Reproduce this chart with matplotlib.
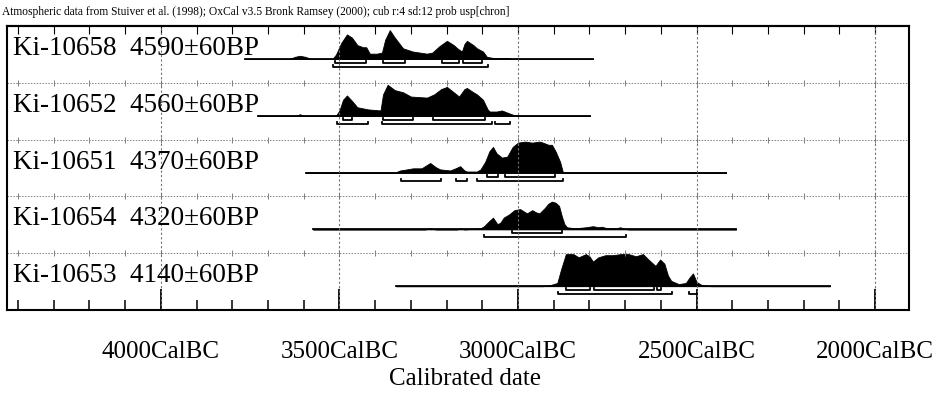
import matplotlib.pyplot as plt
import numpy as np

plt.rcParams['font.family'] = ['Liberation Serif', 'DejaVu Serif']

# sample names and radiocarbon ages
labels = ['Ki-10658  4590\u00b160BP', 'Ki-10652  4560\u00b160BP', 'Ki-10651  4370\u00b160BP',
          'Ki-10654  4320\u00b160BP', 'Ki-10653  4140\u00b160BP']

# calibrated distributions: years BC and relative probability
years1 = [3765, 3640, 3625, 3611, 3595, 3580, 3520, 3510, 3495, 3479, 3465, 3450, 3434, 3425, 3415, 3395,
          3381, 3372, 3359, 3345, 3322, 3295, 3255, 3240, 3220, 3199, 3180, 3170, 3157, 3150, 3143, 3125,
          3115, 3098, 3087, 3070, 3025, 3020, 2790]
prob1 = [0, 0, 2, 3, 2, 0, 0, 4, 15, 23, 20, 13, 11, 11, 5, 5,
         6, 18, 27, 20, 10, 7, 5, 6, 12, 17, 13, 10, 7, 14, 17, 13,
         10, 7, 2, 1, 1, 0, 0]

years2 = [3728, 3620, 3611, 3600, 3510, 3500, 3490, 3479, 3465, 3450, 3420, 3385, 3378, 3365, 3345, 3322,
          3300, 3255, 3235, 3215, 3199, 3180, 3165, 3150, 3143, 3125, 3115, 3098, 3085, 3079, 3060, 3045,
          3030, 3014, 3000, 2798]
prob2 = [0, 0, 1.5, 0, 0, 5, 15, 19, 14, 8, 6, 5, 20, 29, 24, 22,
         18, 17, 20, 25, 27, 22, 18, 25, 26, 22, 20, 15, 6, 4, 4, 5,
         3, 1, 0, 0]

years3 = [3594, 3345, 3330, 3311, 3294, 3270, 3246, 3230, 3218, 3190, 3175, 3162, 3150, 3143, 3115, 3105,
          3092, 3080, 3070, 3060, 3045, 3030, 3015, 3000, 2980, 2960, 2940, 2930, 2915, 2905, 2895, 2882,
          2874, 2417]
prob3 = [0, 0, 2, 3, 4, 4, 9, 5, 3, 2, 4, 6, 2, 1, 1, 3,
         10, 20, 24, 18, 14, 15, 24, 28, 29, 28, 29, 28, 26, 26, 20, 10,
         0, 0]

years4 = [3574, 3260, 3246, 3230, 3170, 3162, 3150, 3105, 3095, 3080, 3070, 3058, 3050, 3040, 3025, 3010,
          2994, 2975, 2960, 2950, 2940, 2925, 2915, 2905, 2895, 2885, 2877, 2870, 2863, 2840, 2810, 2790,
          2775, 2765, 2750, 2725, 2714, 2700, 2690, 2389]
prob4 = [0, 0, 1, 0, 0, 1, 0, 1, 3, 8, 11, 5, 6, 11, 14, 18,
         19, 15, 18, 16, 15, 20, 24, 26, 25, 22, 12, 5, 2, 1, 2, 3,
         2, 2.5, 1, 1, 2, 0.5, 0, 0]

years5 = [3342, 2930, 2910, 2890, 2880, 2866, 2845, 2830, 2810, 2800, 2790, 2775, 2755, 2735, 2712, 2690,
          2670, 2650, 2635, 2615, 2602, 2590, 2580, 2571, 2550, 2530, 2520, 2510, 2500, 2485, 2459, 2126]
prob5 = [0, 0, 1, 3, 15, 30, 30, 27, 30, 28, 23, 27, 29, 29, 30, 30,
         28, 30, 25, 19, 25, 21, 10, 5, 2, 3, 8, 12, 4, 1, 0, 0]

# 68.2% and 95.4% ranges (BC)
r68 = [[(3513, 3426), (3378, 3317), (3213, 3165), (3154, 3101)],
       [(3490, 3465), (3378, 3294), (3238, 3092)],
       [(3087, 3055), (3036, 2896)],
       [(3017, 2877)],
       [(2866, 2798), (2787, 2619), (2611, 2600)]]
r95 = [[(3518, 3084)],
       [(3507, 3420), (3381, 3073), (3064, 3022)],
       [(3328, 3216), (3174, 3143), (3115, 2874)],
       [(3095, 2697)],
       [(2888, 2569), (2521, 2499)]]

major_years = [4000, 3500, 3000, 2500, 2000]
tick_labels = ['4000CalBC', '3500CalBC', '3000CalBC', '2500CalBC', '2000CalBC']
minor_years = list(range(4400, 1999, -100))

years = [years1, years2, years3, years4, years5]
probs = [prob1, prob2, prob3, prob4, prob5]

fig = plt.figure(figsize=(9.44, 4.01), dpi=100)
ax = fig.add_axes([7 / 944, 1 - 310 / 401, 902 / 944, 284 / 401])
ax.set_xlim(4431, 1905)
ax.set_ylim(0, 5)

px = 1 / 56.8  # one pixel in row units
n = len(labels)
for i in range(n):
    top = n - i
    base = top - 33 * px
    y = np.array(years[i])
    p = np.array(probs[i]) * px * 1.07
    ax.fill_between(y, base, base + p, color='black', lw=0.6, edgecolor='black')
    ax.plot([y[0], y[-1]], [base, base], color='black', lw=1.3)
    ax.text(4415, base + 4 * px, labels[i], fontsize=19.5, va='baseline', ha='left')
    for lev, rr in [(4, r68[i]), (8, r95[i])]:
        yy = base - lev * px
        for a, b in rr:
            ax.plot([a, a, b, b], [yy + 2 * px, yy, yy, yy + 2 * px], color='black', lw=1.3)

# row separators with little tick marks
for k in range(1, n):
    ax.axhline(k, color='0.5', lw=0.7, ls=(0, (1.5, 1.5)))
    ax.plot(minor_years, [k] * len(minor_years), ls='none', marker='|', ms=4, mew=0.7, color='0.5')
for yr in major_years:
    ax.axvline(yr, color='0.45', lw=0.8, ls=(0, (2, 2)))

ax.set_yticks([])
ax.set_xticks(major_years)
ax.set_xticklabels(tick_labels, fontsize=18)
ax.set_xticks(minor_years, minor=True)
ax.tick_params(axis='x', which='major', direction='in', length=15, width=1.3, pad=22)
ax.tick_params(axis='x', which='minor', direction='in', length=7, width=1.1)
top_ax = ax.secondary_xaxis('top')
top_ax.set_xticks(minor_years)
top_ax.set_xticklabels([])
top_ax.tick_params(direction='in', length=6, width=0.8)
top_ax.spines['top'].set_linewidth(1.5)
for s in ax.spines.values():
    s.set_linewidth(1.5)

ax.set_xlabel('Calibrated date', fontsize=18)
ax.xaxis.set_label_coords(0.508, -0.205)

fig.text(0.002, 1 - 12 / 401, 'Atmospheric data from Stuiver et al. (1998); OxCal v3.5 Bronk Ramsey (2000); '
         'cub r:4 sd:12 prob usp[chron]', fontsize=8.3, va='center', ha='left')

fig.savefig('out.png', dpi=100)
